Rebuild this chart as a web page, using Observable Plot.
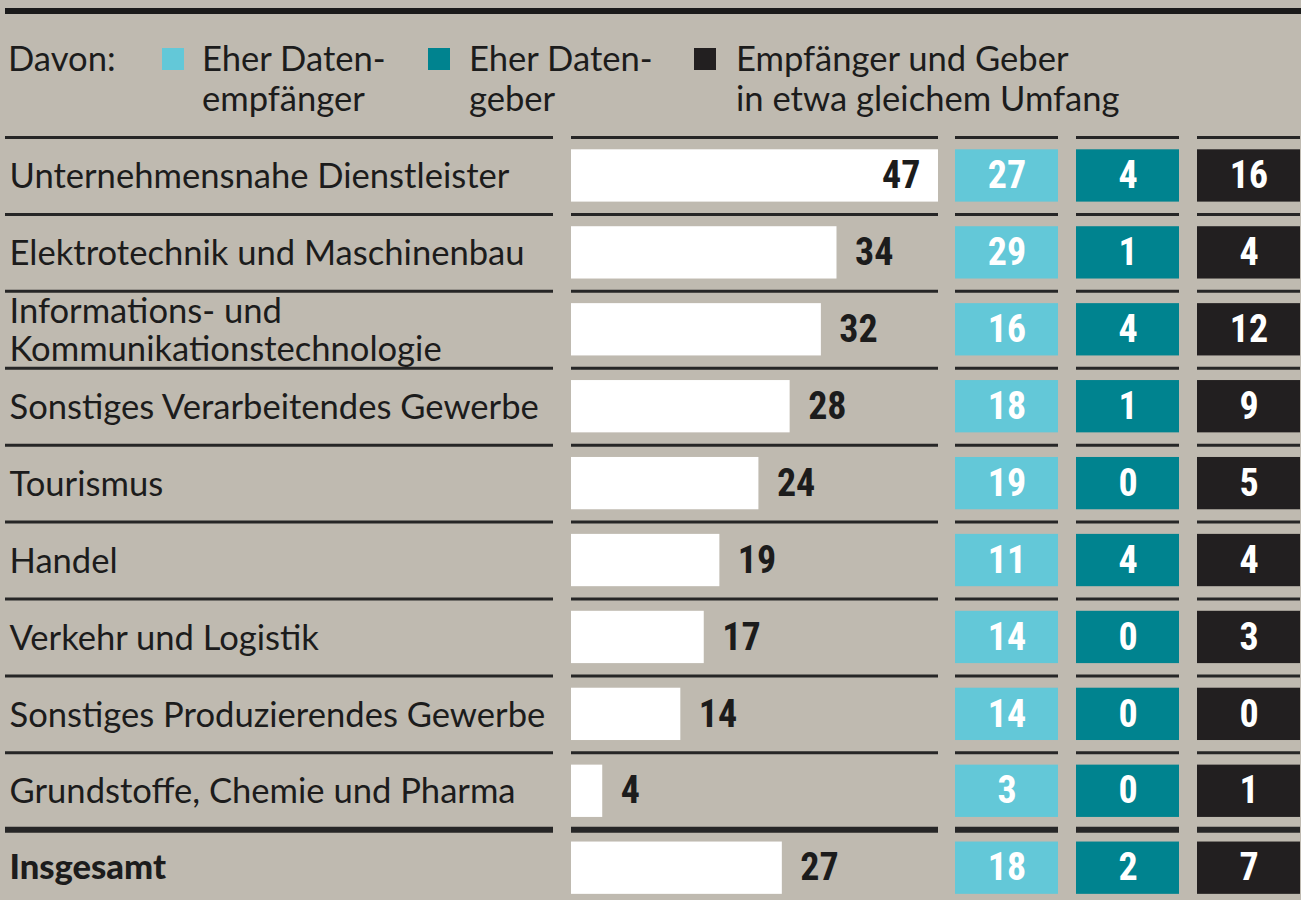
<!DOCTYPE html>
<html><head><meta charset="utf-8">
<script src="https://cdn.jsdelivr.net/npm/d3@7"></script>
<script src="https://cdn.jsdelivr.net/npm/@observablehq/plot@0.6"></script>
<style>
body{margin:0;background:#bfbab0;}
#wrap{position:relative;width:1301px;height:900px;overflow:hidden;font-family:Lato, sans-serif;color:#1c1c1c}
#header{position:relative;height:120px}
.rule{position:absolute;left:5px;right:0;top:8px;height:6px;background:#1a1a1a}
.leg{position:absolute;top:38px;font-size:34.6px;line-height:40px;white-space:nowrap}
.sw{position:absolute;top:48px;width:22px;height:22px}
#plots{position:relative;height:780px}
#plots > div{position:absolute;top:0}
</style></head>
<body>
<div id="wrap">
  <div id="header">
    <div class="rule"></div>
    <div class="leg" style="left:8px">Davon:</div>
    <div id="legend"></div>
  </div>
  <div id="plots">
    <div id="pa" style="left:0"></div>
    <div id="pb" style="left:563px"></div>
    <div id="pc" style="left:948px"></div>
  </div>
</div>
<script>
const categories = ["Unternehmensnahe Dienstleister","Elektrotechnik und Maschinenbau","Informations- und\nKommunikationstechnologie","Sonstiges Verarbeitendes Gewerbe","Tourismus","Handel","Verkehr und Logistik","Sonstiges Produzierendes Gewerbe","Grundstoffe, Chemie und Pharma","Insgesamt"];
const totals = [47,34,32,28,24,19,17,14,4,27];
const empfaenger = [27,29,16,18,19,11,14,14,3,18];
const geber = [4,1,4,1,0,4,0,0,0,2];
const beides = [16,4,12,9,5,4,3,0,1,7];
const seriesNames = ["Eher Datenempfänger","Eher Datengeber","Empfänger und Geber in etwa gleichem Umfang"];
const legendLabels = ["Eher Daten-<br>empfänger","Eher Daten-<br>geber","Empfänger und Geber<br>in etwa gleichem Umfang"];
const seriesValues = [empfaenger, geber, beides];
const seriesColors = ["#63c8d8","#00838f","#221f20"];
const totalRow = "Insgesamt";

// legend (HTML)
const legPos = [[162,202],[428,469],[694,736]];
document.getElementById("legend").innerHTML = seriesNames.map((s,j)=>
  `<div class="sw" style="left:${legPos[j][0]}px;background:${seriesColors[j]}"></div><div class="leg" style="left:${legPos[j][1]}px">${legendLabels[j]}</div>`).join("");

const rows = categories.map((name,i)=>({name,row:i,total:totals[i]}));
const seps = categories.map((c,i)=>({pos:i-0.5,thick:c===totalRow}));
const cells = seriesNames.flatMap((s,j)=>categories.map((c,i)=>({series:s,row:i,value:seriesValues[j][i]})));
const sepCells = seriesNames.flatMap(s=>seps.map(d=>({...d,series:s})));
const half = 0.34;
const numFont = "'Liberation Sans Narrow', 'Roboto Condensed', Roboto, sans-serif";
const common = {height:780, marginTop:17, marginBottom:0,
  y:{domain:[-0.5, categories.length-0.58], reverse:true, axis:null},
  style:{background:"transparent", fontFamily:"Lato, sans-serif", overflow:"visible"}};
const sepStroke = "#262626";

const pa = Plot.plot({...common, width:563, marginLeft:5, marginRight:10,
  x:{domain:[0,1],axis:null},
  marks:[
    Plot.ruleY(seps,{y:"pos",stroke:sepStroke,strokeWidth:d=>d.thick?6:3}),
    Plot.text(rows.filter(d=>d.name!==totalRow),{y:"row",text:"name",frameAnchor:"left",textAnchor:"start",dx:4,fontSize:34.6,fill:"#1c1c1c",lineHeight:1.1}),
    Plot.text(rows.filter(d=>d.name===totalRow),{y:"row",text:"name",frameAnchor:"left",textAnchor:"start",dx:4,fontSize:34.6,fontWeight:900,fill:"#1c1c1c"})
  ]});
document.getElementById("pa").append(pa);

const maxT = d3.max(totals);
const pb = Plot.plot({...common, width:385, marginLeft:8, marginRight:10,
  x:{domain:[0,maxT],axis:null},
  marks:[
    Plot.ruleY(seps,{y:"pos",stroke:sepStroke,strokeWidth:d=>d.thick?6:3}),
    Plot.rectX(rows,{x:"total",y1:d=>d.row-half,y2:d=>d.row+half,fill:"white"}),
    Plot.text(rows.filter(d=>d.total===maxT),{x:"total",y:"row",text:"total",textAnchor:"end",dx:-18,fontSize:38,fontWeight:"bold",fill:"#1c1c1c",fontFamily:numFont}),
    Plot.text(rows.filter(d=>d.total!==maxT),{x:"total",y:"row",text:"total",textAnchor:"start",dx:18,fontSize:38,fontWeight:"bold",fill:"#1c1c1c",fontFamily:numFont})
  ]});
document.getElementById("pb").append(pb);

const pc = Plot.plot({...common, width:353, marginLeft:7, marginRight:1,
  x:{domain:seriesNames,paddingInner:0.149,paddingOuter:0,axis:null},
  color:{domain:seriesNames,range:seriesColors},
  marks:[
    Plot.tickY(sepCells,{x:"series",y:"pos",stroke:sepStroke,strokeWidth:d=>d.thick?6:3}),
    Plot.barY(cells,{x:"series",y1:d=>d.row-half,y2:d=>d.row+half,fill:"series"}),
    Plot.text(cells,{x:"series",y:"row",text:"value",fill:"white",fontSize:38,fontWeight:"bold",fontFamily:numFont})
  ]});
document.getElementById("pc").append(pc);
</script>
</body></html>
